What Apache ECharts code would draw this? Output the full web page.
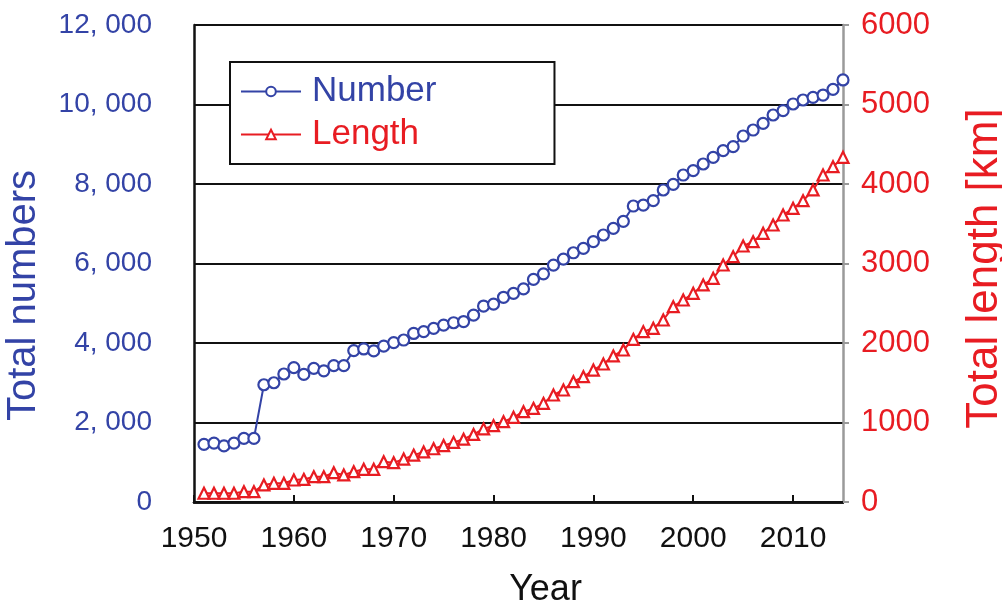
<!DOCTYPE html>
<html>
<head>
<meta charset="utf-8">
<script src="https://cdn.jsdelivr.net/npm/echarts@6/dist/echarts.min.js"></script>
<style>
  html, body { margin:0; padding:0; background:#fff; }
  #chart { width:1002px; height:606px; }
</style>
</head>
<body>
<div id="chart"></div>
<script>
// years 1951-2015
const years = [];
for (let y = 1951; y <= 2015; y++) years.push(y);

// total number (left axis)
const numbers = [
  1450, 1480, 1410, 1480, 1600, 1600, 2950, 3000, 3220, 3380,
  3210, 3360, 3300, 3430, 3430, 3810, 3850, 3800, 3920, 4010,
  4075, 4240, 4285, 4370, 4450, 4510, 4540, 4700, 4930, 4980,
  5150, 5250, 5360, 5600, 5740, 5960, 6110, 6270, 6380, 6550,
  6717, 6885, 7060, 7446, 7471, 7580, 7849, 7992, 8226, 8335,
  8503, 8671, 8839, 8939, 9207, 9358, 9526, 9736, 9845, 10013,
  10113, 10180, 10238, 10382, 10617
];

// total length in km (right axis)
const lengths = [
  110, 110, 110, 110, 130, 130, 215, 235, 235, 277,
  285, 318, 318, 369, 340, 381, 411, 411, 507, 495,
  540, 590, 630, 670, 710, 750, 790, 850, 920, 960,
  1010, 1065, 1136, 1178, 1241, 1346, 1409, 1513, 1576, 1660,
  1736, 1837, 1912, 2046, 2143, 2185, 2289, 2457, 2541, 2625,
  2730, 2814, 2981, 3086, 3220, 3275, 3380, 3484, 3610, 3694,
  3790, 3925, 4113, 4218, 4336
];

const BLUE = '#3343a6';
const RED = '#e81c22';
const SANS = '"Liberation Sans", Arial, sans-serif';

const chart = echarts.init(document.getElementById('chart'));
chart.setOption({
  backgroundColor: '#fff',
  animation: false,
  grid: { left: 194, right: 159, top: 25, bottom: 104, outerBoundsMode: 'none', containLabel: false },
  legend: {
    orient: 'vertical',
    left: 230, top: 62,
    backgroundColor: '#fff',
    borderColor: '#111', borderWidth: 2,
    padding: [12, 118, 12, 10],
    itemWidth: 60, itemHeight: 12, itemGap: 8,
    textStyle: { fontFamily: SANS, fontSize: 35, padding: [0, 0, 0, 6] },
    data: [
      { name: 'Number', textStyle: { color: BLUE } },
      { name: 'Length', textStyle: { color: RED } }
    ]
  },
  xAxis: [{
    type: 'value', min: 1950, max: 2015, interval: 10,
    name: 'Year', nameLocation: 'middle', nameGap: 70,
    nameTextStyle: { fontFamily: SANS, fontSize: 36, color: '#111', padding: [0, 0, 0, 54] },
    axisLine: { lineStyle: { color: '#111', width: 2.5 } },
    axisTick: { inside: true, length: 7, lineStyle: { color: '#111', width: 2 } },
    axisLabel: { fontFamily: SANS, fontSize: 30, color: '#111', margin: 22, showMaxLabel: false, formatter: v => String(v) },
    splitLine: { show: false }
  }, {
    type: 'value', position: 'top', min: 1950, max: 2015,
    axisLine: { lineStyle: { color: '#111', width: 2.5 } },
    axisTick: { show: false }, axisLabel: { show: false }, splitLine: { show: false }
  }],
  yAxis: [{
    type: 'value', min: 0, max: 12000, interval: 2000,
    name: 'Total numbers', nameLocation: 'middle', nameGap: 150, nameRotate: 90,
    nameTextStyle: { fontFamily: SANS, fontSize: 40, color: BLUE, padding: [0, 64, 0, 0] },
    axisLine: { show: true, lineStyle: { color: '#111', width: 2.5 } },
    axisTick: { show: false },
    axisLabel: {
      fontFamily: SANS, fontSize: 28, color: BLUE, margin: 42,
      formatter: v => v >= 1000 ? Math.floor(v / 1000) + ', ' + String(v % 1000).padStart(3, '0') : String(v)
    },
    splitLine: { lineStyle: { color: '#111', width: 2 } }
  }, {
    type: 'value', min: 0, max: 6000, interval: 1000, position: 'right',
    name: 'Total length [km]', nameLocation: 'middle', nameGap: 120, nameRotate: 90,
    nameTextStyle: { fontFamily: SANS, fontSize: 44, color: RED, padding: [0, 10, 0, 0] },
    axisLine: { show: true, lineStyle: { color: '#9a9a9a', width: 2.5 } },
    axisTick: { show: true, length: 6, lineStyle: { color: '#9a9a9a', width: 2 } },
    axisLabel: { fontFamily: SANS, fontSize: 31, color: RED, margin: 18, formatter: v => String(v) },
    splitLine: { show: false }
  }],
  series: [{
    name: 'Number', type: 'line', yAxisIndex: 0,
    data: years.map((y, i) => [y, numbers[i]]),
    symbol: 'circle', symbolSize: 11,
    itemStyle: { color: '#fff', borderColor: BLUE, borderWidth: 2.2 },
    lineStyle: { color: BLUE, width: 2 },
    z: 3
  }, {
    name: 'Length', type: 'line', yAxisIndex: 1,
    data: years.map((y, i) => [y, lengths[i]]),
    symbol: 'triangle', symbolSize: 11,
    itemStyle: { color: '#fff', borderColor: RED, borderWidth: 2.2 },
    lineStyle: { color: RED, width: 2 },
    z: 3
  }]
});
</script>
</body>
</html>
